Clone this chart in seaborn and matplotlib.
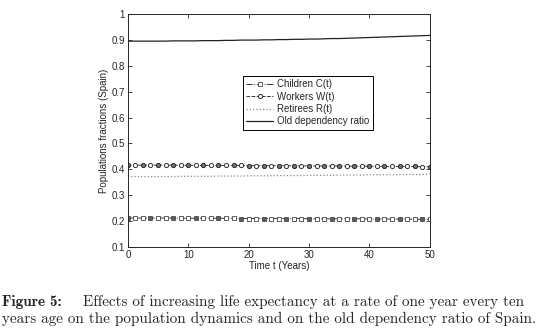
import numpy as np
import pandas as pd
import matplotlib
matplotlib.use("Agg")
import matplotlib.pyplot as plt
import seaborn as sns

# time grid (years), one point every 1.25 years
t = np.arange(41) * 1.25

children = [0.212, 0.212, 0.212, 0.212, 0.212, 0.212, 0.212, 0.211, 0.211, 0.211,
            0.211, 0.211, 0.211, 0.211, 0.211, 0.210, 0.210, 0.210, 0.210, 0.210,
            0.210, 0.210, 0.210, 0.210, 0.209, 0.209, 0.209, 0.209, 0.209, 0.209,
            0.209, 0.209, 0.208, 0.208, 0.208, 0.208, 0.208, 0.208, 0.207, 0.207,
            0.207]
workers = [0.416, 0.416, 0.416, 0.416, 0.416, 0.416, 0.416, 0.416, 0.415, 0.415,
           0.415, 0.415, 0.415, 0.415, 0.415, 0.415, 0.414, 0.414, 0.414, 0.414,
           0.414, 0.414, 0.414, 0.413, 0.413, 0.413, 0.413, 0.413, 0.413, 0.412,
           0.412, 0.412, 0.412, 0.412, 0.411, 0.411, 0.411, 0.411, 0.411, 0.410,
           0.410]
retirees = [0.372, 0.372, 0.372, 0.372, 0.372, 0.372, 0.372, 0.373, 0.373, 0.373,
            0.373, 0.373, 0.374, 0.374, 0.374, 0.374, 0.375, 0.375, 0.375, 0.375,
            0.376, 0.376, 0.376, 0.376, 0.377, 0.377, 0.377, 0.377, 0.378, 0.378,
            0.378, 0.378, 0.379, 0.379, 0.379, 0.379, 0.380, 0.380, 0.380, 0.380,
            0.381]
old_ratio = [0.895, 0.895, 0.895, 0.895, 0.895, 0.895, 0.896, 0.896, 0.896, 0.896,
             0.897, 0.897, 0.897, 0.898, 0.898, 0.899, 0.899, 0.899, 0.900, 0.900,
             0.901, 0.901, 0.902, 0.902, 0.903, 0.903, 0.904, 0.905, 0.905, 0.906,
             0.907, 0.908, 0.909, 0.910, 0.911, 0.912, 0.913, 0.914, 0.915, 0.916,
             0.917]

labels = ["Children C(t)", "Workers W(t)", "Retirees R(t)", "Old dependency ratio"]

df = pd.DataFrame({"t": t, "C": children, "W": workers, "R": retirees, "OD": old_ratio})

sns.set_style("ticks")
plt.rcParams["font.family"] = ["Liberation Sans", "DejaVu Sans"]

fig = plt.figure(figsize=(5.44, 3.32), dpi=100)
ax = fig.add_axes([0.235, 0.256, 0.555, 0.702])

sns.lineplot(data=df, x="t", y="C", ax=ax, color="#333333", lw=0.7, linestyle="-.",
             marker="s", ms=2.6, mfc="white", mec="#444444", mew=0.6, label=labels[0])
sns.lineplot(data=df, x="t", y="W", ax=ax, color="#333333", lw=0.7, linestyle="--",
             marker="o", ms=3.0, mfc="white", mec="#333333", mew=0.7, label=labels[1])
sns.lineplot(data=df, x="t", y="R", ax=ax, color="#888888", lw=0.9, linestyle=":",
             label=labels[2])
sns.lineplot(data=df, x="t", y="OD", ax=ax, color="#222222", lw=0.9, linestyle="-",
             label=labels[3])

# every other marker appears darker in the original
ax.plot(df["t"][::3], df["C"][::3], ls="none", marker="o", ms=2.4, mfc="#666666",
        mec="#444444", mew=0.5)
ax.plot(df["t"][::2], df["W"][::2], ls="none", marker="o", ms=2.8, mfc="#777777",
        mec="#333333", mew=0.6)

ax.set_xlim(0, 50)
ax.set_ylim(0.1, 1.0)
ax.set_xticks([0, 10, 20, 30, 40, 50])
ax.set_yticks([0.1, 0.2, 0.3, 0.4, 0.5, 0.6, 0.7, 0.8, 0.9, 1.0])
ax.set_yticklabels(["0.1", "0.2", "0.3", "0.4", "0.5", "0.6", "0.7", "0.8", "0.9", "1"])
ax.tick_params(direction="in", length=3, width=0.6, labelsize=7, top=True, right=True,
               pad=2)
for s in ax.spines.values():
    s.set_visible(True)
    s.set_linewidth(0.7)
ax.set_xlabel("Time t (Years)", fontsize=7, labelpad=1)
ax.set_ylabel("Populations fractions (Spain)", fontsize=7, labelpad=2)

leg = ax.legend(loc="upper left", bbox_to_anchor=(0.38, 0.735), fontsize=7,
                frameon=True, fancybox=False, framealpha=1, edgecolor="black",
                handlelength=2.8, handletextpad=0.4, borderpad=0.35,
                labelspacing=0.25, borderaxespad=0)
leg.get_frame().set_linewidth(0.7)

# caption
fig.text(0.004, 0.078, "Figure 5:", fontname="cmb10", fontsize=10.9, va="baseline")
fig.text(0.152, 0.078, "Effects of increasing life expectancy at a rate of one year every ten",
         fontname="cmr10", fontsize=10.9, va="baseline")
fig.text(0.004, 0.028, "years age on the population dynamics and on the old dependency ratio of Spain.",
         fontname="cmr10", fontsize=10.9, va="baseline")

fig.savefig("out.png", dpi=100)
